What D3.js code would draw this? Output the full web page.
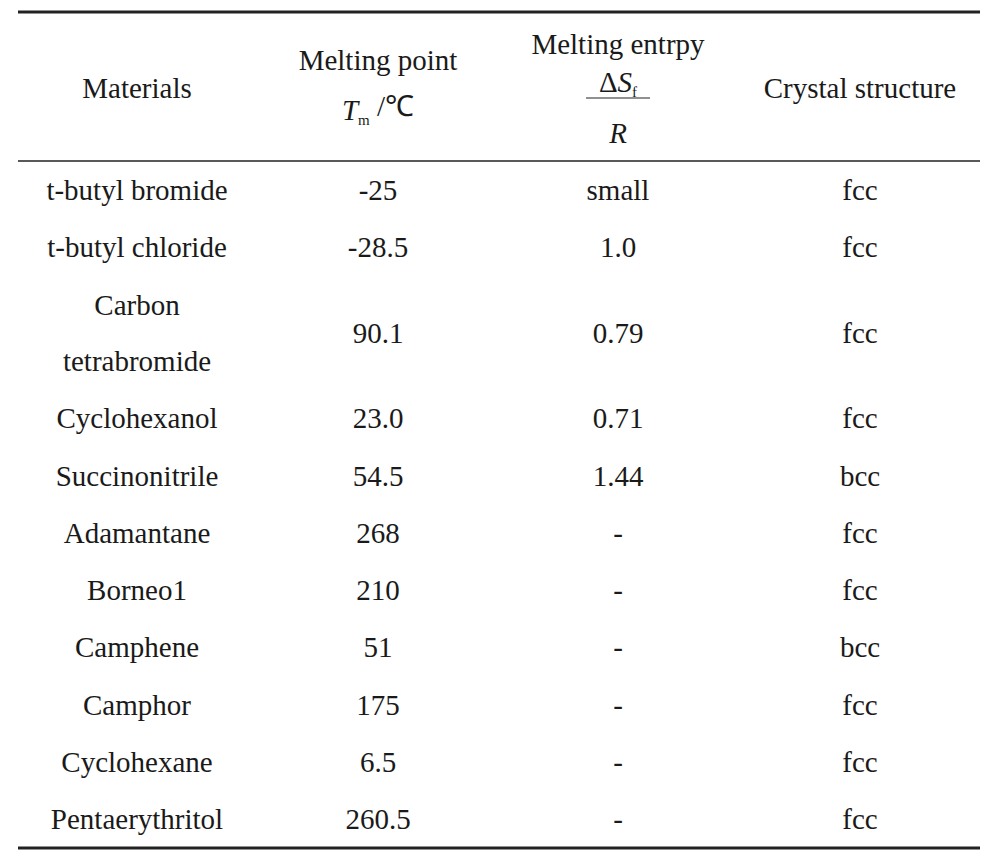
<!DOCTYPE html>
<html><head><meta charset="utf-8">
<script src="https://cdn.jsdelivr.net/npm/d3@7"></script>
<style>body{margin:0;background:#fff}</style></head>
<body><svg id="c" width="1001" height="864"></svg>
<script>
const materials=["t-butyl bromide","t-butyl chloride","Carbon|tetrabromide","Cyclohexanol","Succinonitrile","Adamantane","Borneo1","Camphene","Camphor","Cyclohexane","Pentaerythritol"];
const meltingPoint=["-25","-28.5","90.1","23.0","54.5","268","210","51","175","6.5","260.5"];
const entropy=["small","1.0","0.79","0.71","1.44","-","-","-","-","-","-"];
const structure=["fcc","fcc","fcc","fcc","bcc","fcc","fcc","bcc","fcc","fcc","fcc"];
const rowY=[190,247,333,418,476,533,590,647,705,762,819];
const colX=[137,378,618,860];
const svg=d3.select("#c");
const F="Liberation Serif, Times New Roman, serif";
const g=svg.append("g").attr("font-family",F).attr("font-size",29).attr("fill","#1a1a1a").attr("text-anchor","middle");
svg.append("line").attr("x1",18).attr("x2",980).attr("y1",12).attr("y2",12).attr("stroke","#222").attr("stroke-width",3);
svg.append("line").attr("x1",18).attr("x2",980).attr("y1",161).attr("y2",161).attr("stroke","#222").attr("stroke-width",1.5);
svg.append("line").attr("x1",18).attr("x2",980).attr("y1",848).attr("y2",848).attr("stroke","#222").attr("stroke-width",3);
const t=(x,y,s)=>g.append("text").attr("x",x).attr("y",y).attr("dy","0.35em").text(s);
t(colX[0],88,"Materials");
t(colX[1],60,"Melting point");
const tm=g.append("text").attr("x",colX[1]).attr("y",110).attr("dy","0.35em");
tm.append("tspan").attr("font-style","italic").text("T");
tm.append("tspan").attr("font-size",15).attr("dy","0.3em").text("m");
tm.append("tspan").attr("dy","-0.3em").text(" /℃");
t(colX[2],44,"Melting entrpy");
const ds=g.append("text").attr("x",colX[2]).attr("y",82).attr("dy","0.35em");
ds.append("tspan").text("Δ");
ds.append("tspan").attr("font-style","italic").text("S");
ds.append("tspan").attr("font-size",15).attr("dy","0.3em").text("f");
svg.append("line").attr("x1",colX[2]-32).attr("x2",colX[2]+32).attr("y1",98).attr("y2",98).attr("stroke","#222").attr("stroke-width",1.2);
g.append("text").attr("x",colX[2]).attr("y",133).attr("dy","0.35em").attr("font-style","italic").text("R");
t(colX[3],88,"Crystal structure");
materials.forEach((m,i)=>{
  const y=rowY[i];
  const parts=m.split("|");
  if(parts.length>1){t(colX[0],y-28,parts[0]);t(colX[0],y+28,parts[1]);}
  else t(colX[0],y,m);
  t(colX[1],y,meltingPoint[i]);
  t(colX[2],y,entropy[i]);
  t(colX[3],y,structure[i]);
});
</script></body></html>
